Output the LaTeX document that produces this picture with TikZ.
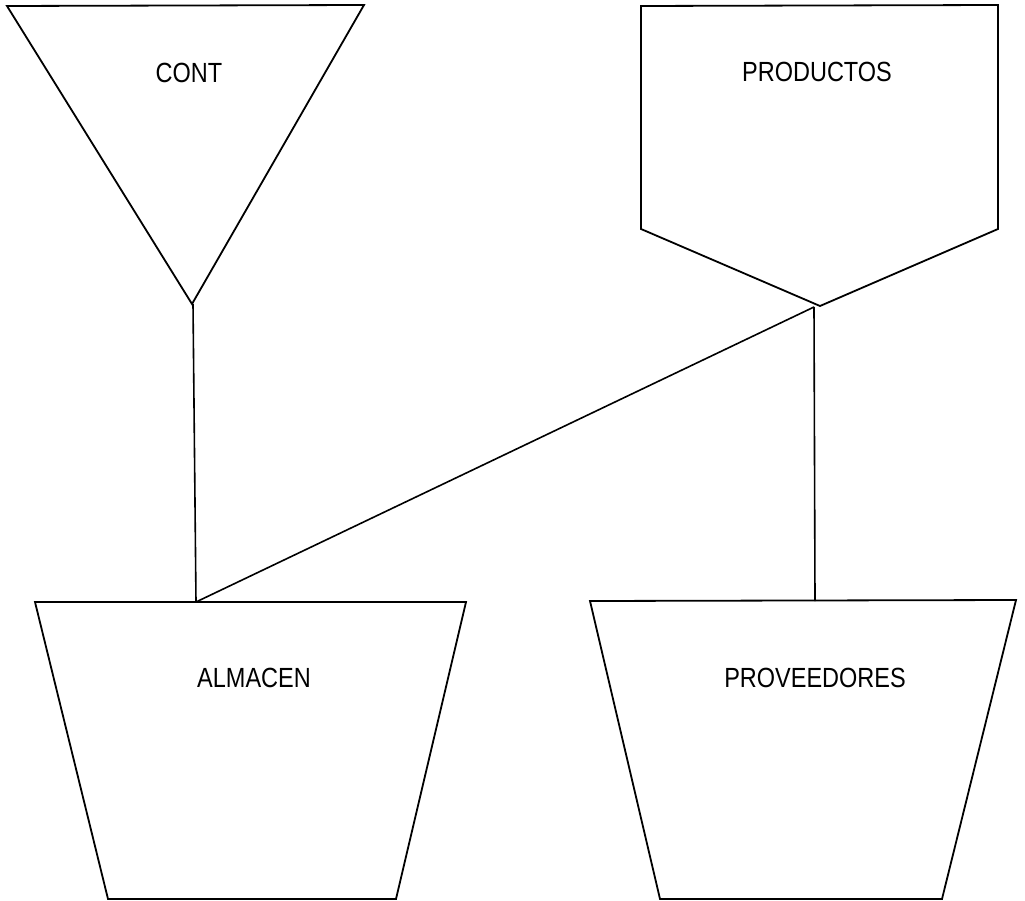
\documentclass[tikz,border=0pt]{standalone}
\usepackage{fontspec}
\setmainfont{Liberation Sans}
\newcommand\tallcaps[1]{\scalebox{1}[1.18]{#1}}
\begin{document}
\begin{tikzpicture}[x=1pt,y=-1pt,
  outline/.style={draw, line width=1.8pt, line join=miter},
  link/.style={draw, line width=1.6pt},
  lbl/.style={inner sep=0pt, font=\fontsize{23.5}{28}\selectfont}]
\useasboundingbox (0,0) rectangle (1025,901);

% CONT: inverted triangle
\draw[outline] (7,6) -- (364,5) -- (192,304) -- cycle;
\node[lbl] (cont) at (189,72.5) {\tallcaps{CONT}};
\coordinate (contLow) at (193,304);

% PRODUCTOS: pentagon pointing down
\draw[outline] (641,6) -- (998,5) -- (998,229) -- (820,306) -- (641,229) -- cycle;
\node[lbl] (productos) at (817,72) {\tallcaps{PRODUCTOS}};
\coordinate (prodLow) at (814,307);

% ALMACEN: trapezoid
\draw[outline] (35,602) -- (466,602) -- (396,899) -- (108,899) -- cycle;
\node[lbl] (almacen) at (254,678) {\tallcaps{ALMACEN}};
\coordinate (almTop) at (196,602);

% PROVEEDORES: trapezoid
\draw[outline] (590,601) -- (1016,600) -- (942,899) -- (660,899) -- cycle;
\node[lbl] (proveedores) at (815,678) {\tallcaps{PROVEEDORES}};
\coordinate (provTop) at (815,601);

% connectors
\draw[link] (contLow) -- (almTop);
\draw[link] (almTop) -- (prodLow);
\draw[link] (prodLow) -- (provTop);
\end{tikzpicture}
\end{document}
